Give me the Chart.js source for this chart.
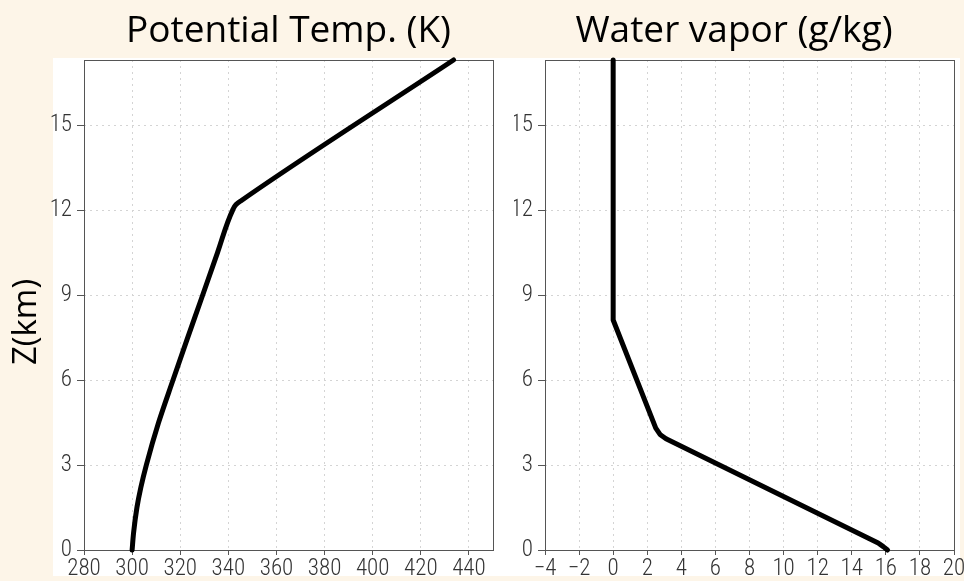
<!DOCTYPE html>
<html>
<head>
<meta charset="utf-8">
<script src="https://cdn.jsdelivr.net/npm/chart.js@4/dist/chart.umd.min.js"></script>
<style>
    html, body { margin: 0; padding: 0; background: #fdf5e8; }
    #wrap { position: relative; width: 964px; height: 581px; overflow: hidden; }
    #panel { position: absolute; left: 53px; top: 58px; width: 907px; height: 518px; background: #ffffff; }
    #thetaChart { position: absolute; left: 0; top: 0; }
    #vaporChart { position: absolute; left: 490px; top: 0; }
</style>
</head>
<body>
<div id="wrap">
    <div id="panel"></div>
    <canvas id="thetaChart" width="500" height="581"></canvas>
    <canvas id="vaporChart" width="474" height="581"></canvas>
</div>
<script>
// ==================== DATA ====================

const heightTicks = [0, 3, 6, 9, 12, 15];
const thetaTicks = [280, 300, 320, 340, 360, 380, 400, 420, 440];
const vaporTicks = [-4, -2, 0, 2, 4, 6, 8, 10, 12, 14, 16, 18, 20];

// potential temperature profile (K) against height (km)
const thetaHeights = [0, 0.6, 1.5, 2.2, 3, 4.5, 6, 7.4, 8.8, 10.5, 12, 12.2, 12.35, 17.3];
const thetaValues = [300, 300.6, 302.0, 303.6, 305.9, 311.0, 317.0, 322.7, 328.5, 335.5, 341.8, 343.2, 345.6, 433.6];

// water vapor profile (g/kg) against height (km)
const vaporHeights = [0, 0.12, 0.25, 3.93, 4.08, 4.3, 8.12, 17.3];
const vaporValues = [16.1, 15.85, 15.55, 3.1, 2.75, 2.5, 0, 0];

// ==================== STYLE ====================

const TICK_FONT = { family: '"Roboto Condensed", "Liberation Sans Narrow", Roboto, sans-serif', size: 23, weight: 300 };
const TITLE_FONT = { family: '"Open Sans", "Noto Sans", sans-serif', size: 37, weight: 'normal' };
const FRAME_COLOR = '#555555';
const GRID_COLOR = '#d4d4d4';

// ==================== PLUGINS ====================

// closes the plot box on all four sides
const frameBox = {
    id: 'frameBox',
    beforeDatasetsDraw(chart) {
        const { ctx, chartArea: a } = chart;
        ctx.save();
        ctx.strokeStyle = FRAME_COLOR;
        ctx.lineWidth = 1;
        ctx.strokeRect(Math.round(a.left) + 0.5, Math.round(a.top) + 0.5,
            Math.round(a.right - a.left), Math.round(a.bottom - a.top));
        ctx.restore();
    }
};

// rotated side label, sits a bit lower than the plot centre
const sideLabel = {
    id: 'sideLabel',
    afterDraw(chart, args, opts) {
        if (!opts.text) return;
        const { ctx, chartArea: a } = chart;
        ctx.save();
        ctx.translate(opts.x, (a.top + a.bottom) / 2 + opts.shift);
        ctx.rotate(-Math.PI / 2);
        ctx.font = `${opts.size}px ${TITLE_FONT.family}`;
        ctx.fillStyle = '#000';
        ctx.textAlign = 'center';
        ctx.textBaseline = 'middle';
        ctx.fillText(opts.text, 0, 0);
        ctx.restore();
    }
};

// ==================== HELPERS ====================

function toPoints(values, heights) {
    return heights.map((h, i) => ({ x: values[i], y: h }));
}

function fixedTicks(list) {
    return scale => { scale.ticks = list.map(v => ({ value: v })); };
}

function formatMinus(value) {
    return value < 0 ? '\u2212' + Math.abs(value) : String(value);
}

function buildProfile(canvasId, cfg) {
    return new Chart(document.getElementById(canvasId), {
        type: 'line',
        data: {
            datasets: [{
                data: toPoints(cfg.values, cfg.heights),
                borderColor: '#000',
                borderWidth: 5,
                borderJoinStyle: 'round',
                borderCapStyle: 'round',
                pointRadius: 0,
                tension: cfg.smooth ? 0.4 : 0,
                cubicInterpolationMode: cfg.smooth ? 'monotone' : 'default',
                fill: false,
                clip: false
            }]
        },
        options: {
            responsive: false,
            animation: false,
            indexAxis: 'y',
            layout: { padding: cfg.padding },
            plugins: {
                legend: { display: false },
                tooltip: { enabled: false },
                title: {
                    display: true,
                    text: cfg.title,
                    color: '#000',
                    font: TITLE_FONT,
                    fullSize: cfg.titleFull,
                    padding: { top: 9, bottom: 6.6 }
                },
                sideLabel: cfg.sideLabel || {}
            },
            scales: {
                x: {
                    type: 'linear',
                    min: cfg.xMin,
                    max: cfg.xMax,
                    afterBuildTicks: fixedTicks(cfg.xTicks),
                    afterFit: scale => {
                        scale.height = 31;
                        scale.paddingLeft = 0;
                        scale.paddingRight = 0;
                    },
                    border: { display: false, dash: [2, 4] },
                    grid: {
                        color: GRID_COLOR,
                        tickColor: FRAME_COLOR,
                        tickLength: 5,
                        tickWidth: 1,
                        tickBorderDash: []
                    },
                    ticks: {
                        color: '#333',
                        font: TICK_FONT,
                        padding: 0,
                        maxRotation: 0,
                        autoSkip: false,
                        callback: formatMinus
                    }
                },
                y: {
                    type: 'linear',
                    min: 0,
                    max: 17.3,
                    afterBuildTicks: fixedTicks(heightTicks),
                    afterFit: scale => {
                        scale.width = cfg.yWidth;
                        scale.paddingTop = 0;
                        scale.paddingBottom = 0;
                    },
                    border: { display: false, dash: [2, 4] },
                    grid: {
                        color: GRID_COLOR,
                        tickColor: FRAME_COLOR,
                        tickLength: 7,
                        tickWidth: 1,
                        tickBorderDash: []
                    },
                    ticks: {
                        color: '#333',
                        font: TICK_FONT,
                        padding: 5,
                        autoSkip: false
                    }
                }
            }
        },
        plugins: [frameBox, sideLabel]
    });
}

// ==================== INITIALIZATION ====================

window.addEventListener('DOMContentLoaded', () => {
    buildProfile('thetaChart', {
        title: 'Potential Temp. (K)',
        values: thetaValues,
        heights: thetaHeights,
        smooth: true,
        xMin: 280,
        xMax: 450,
        xTicks: thetaTicks,
        yWidth: 84,
        padding: { left: 0, right: 7, top: 0, bottom: 0 },
        titleFull: false,
        sideLabel: { text: 'Z(km)', x: 27, shift: 17, size: 33 }
    });

    buildProfile('vaporChart', {
        title: 'Water vapor (g/kg)',
        values: vaporValues,
        heights: vaporHeights,
        smooth: false,
        xMin: -4,
        xMax: 20,
        xTicks: vaporTicks,
        yWidth: 31,
        padding: { left: 24, right: 10, top: 0, bottom: 0 },
        titleFull: true
    });
});
</script>
</body>
</html>
